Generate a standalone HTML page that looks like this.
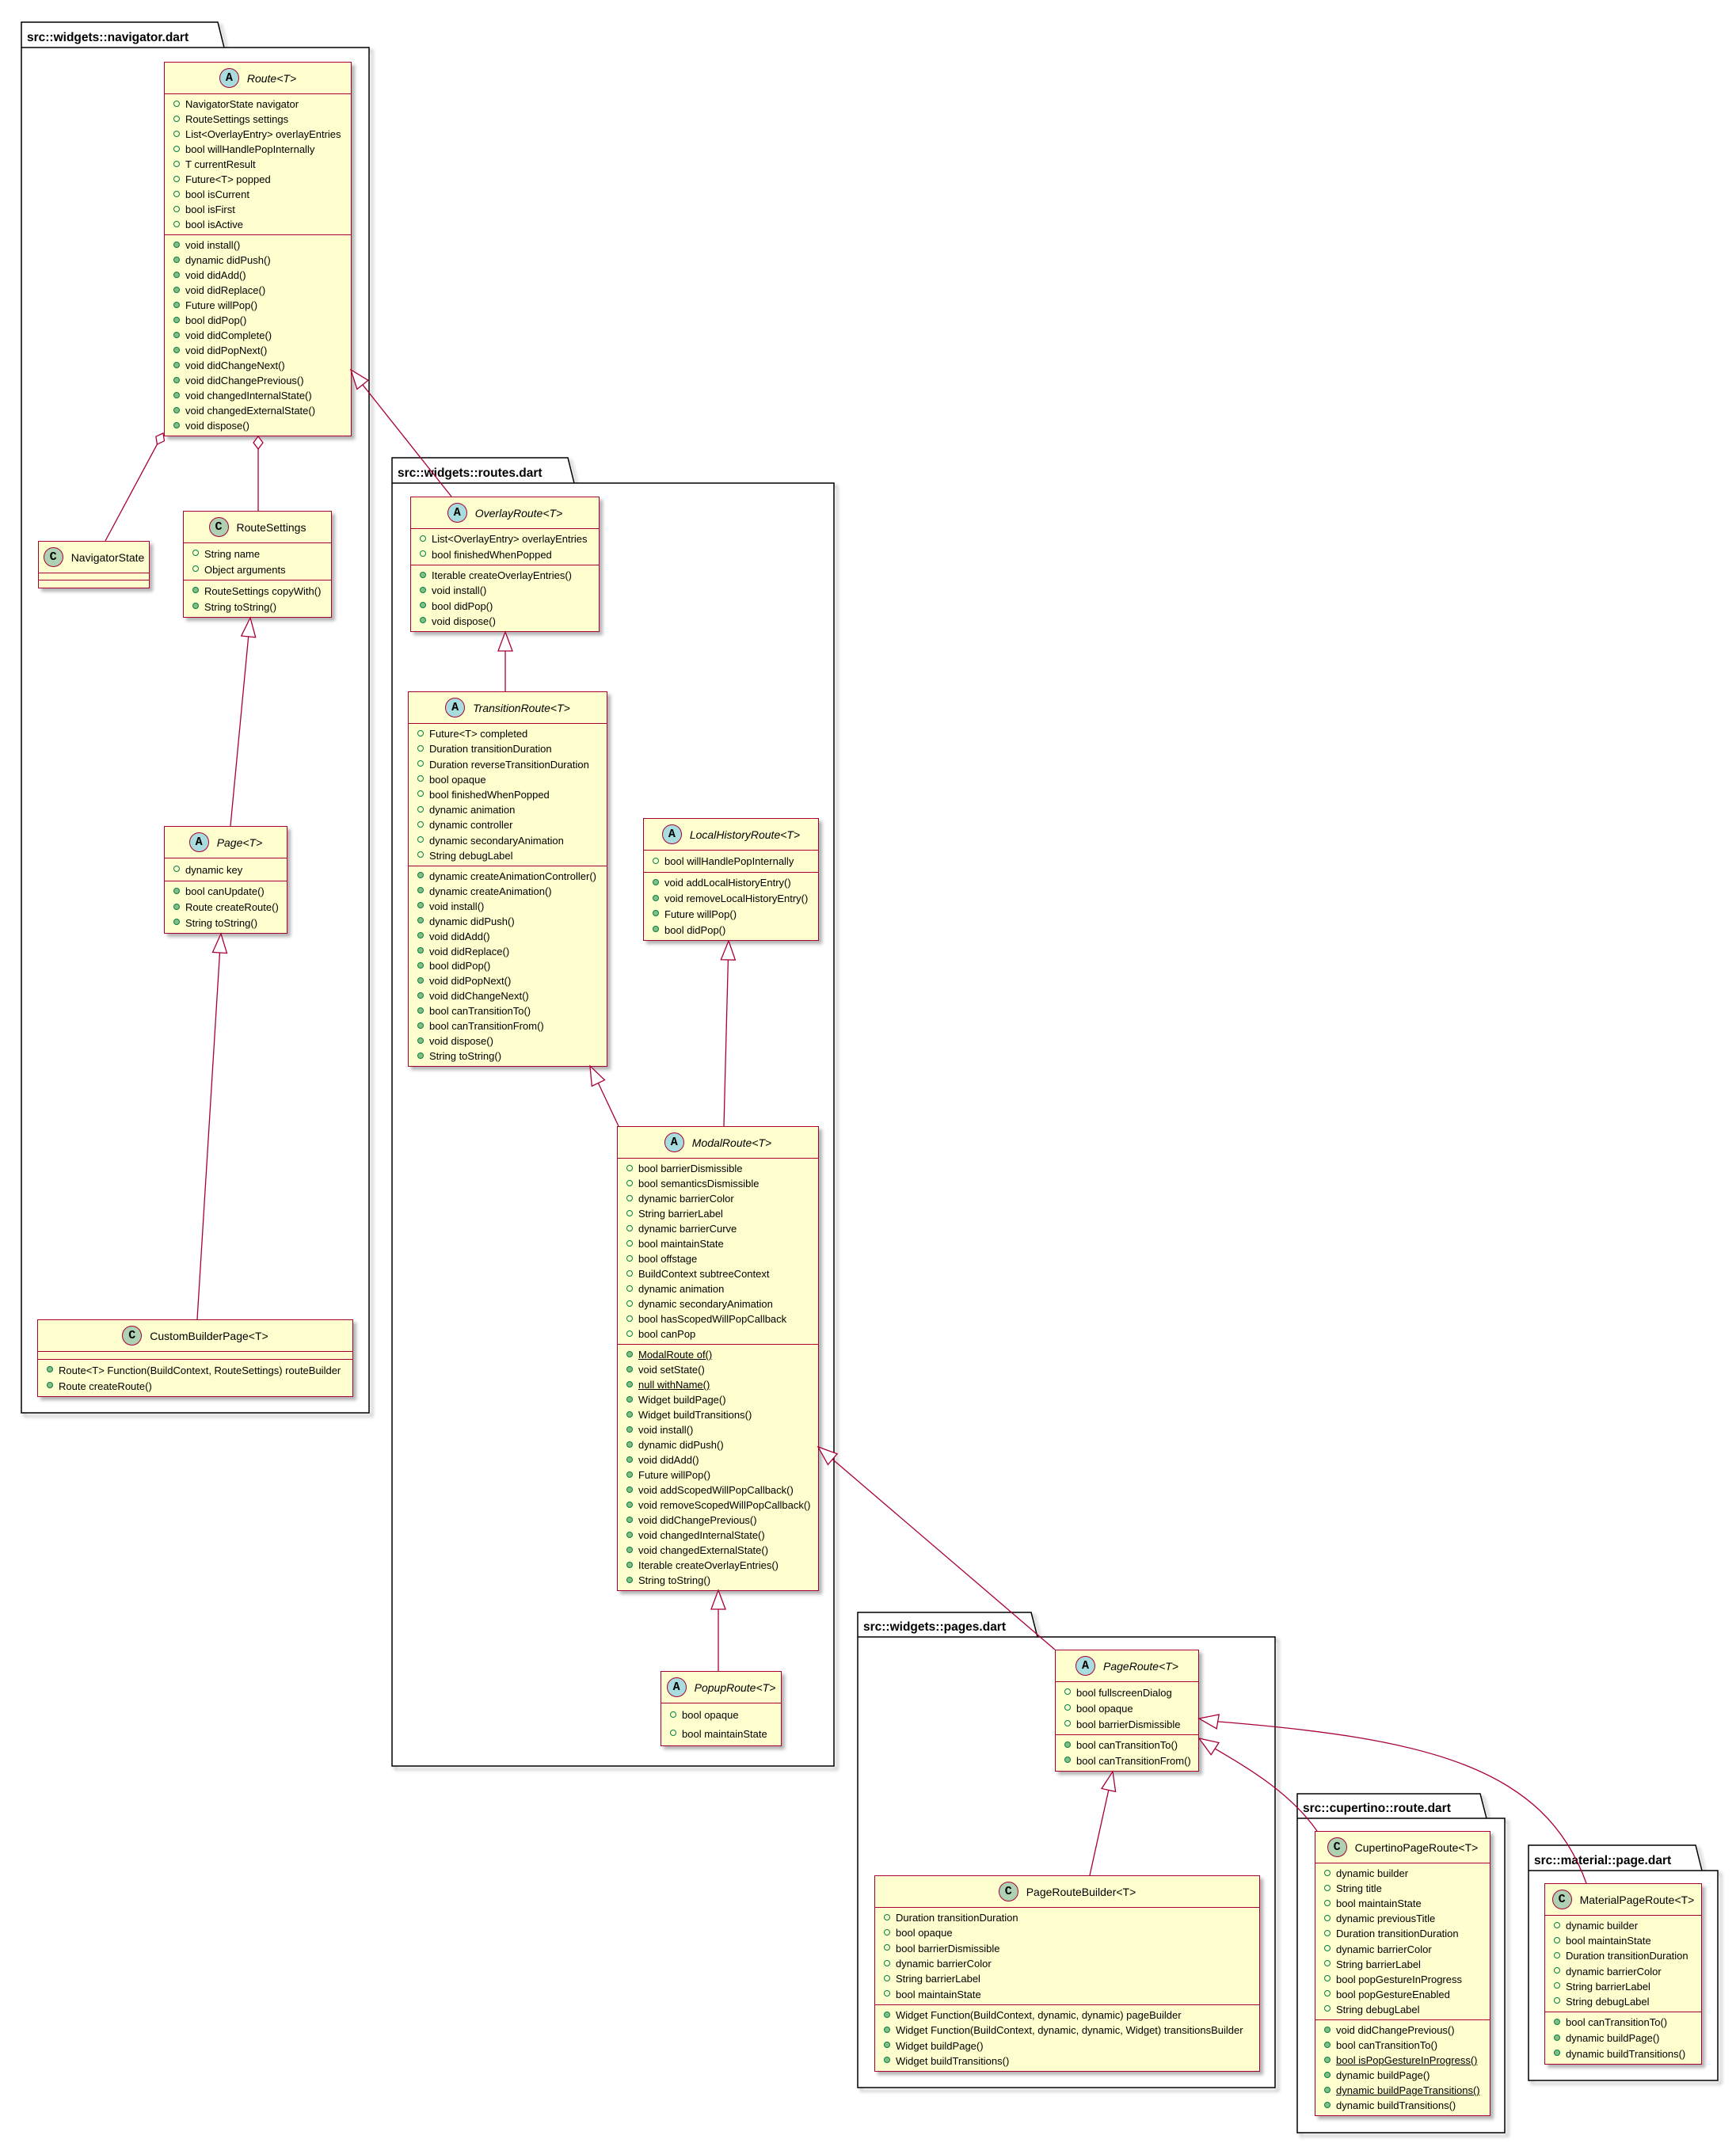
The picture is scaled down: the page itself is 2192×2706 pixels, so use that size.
<!DOCTYPE html>
<html><head><meta charset="utf-8">
<style>
html,body{margin:0;padding:0;background:#fff;}
body{width:2192px;height:2706px;position:relative;overflow:hidden;font-family:"Liberation Sans",sans-serif;color:#000;}
svg{position:absolute;left:0;top:0;}
.c{position:absolute;background:#FEFECE;border:1.5px solid #A80036;box-sizing:border-box;box-shadow:4px 4px 4px rgba(0,0,0,.3);display:flex;flex-direction:column;}
.h{height:40px;flex:none;display:flex;align-items:center;justify-content:center;border-bottom:1.5px solid #A80036;box-sizing:border-box;font-size:14px;white-space:nowrap;}
.h i{font-style:italic}
.ic{width:25px;height:25px;border-radius:50%;border:1.5px solid #A80036;box-sizing:border-box;display:inline-flex;align-items:center;justify-content:center;font-weight:bold;font-size:15px;margin-right:10px;font-family:"Liberation Mono",monospace;}
.A{background:#A9DCDF}.C{background:#ADD1B2}
.s{flex:none;display:flex;flex-direction:column;padding:3px 0;box-sizing:border-box;border-bottom:1.5px solid #A80036;}
.s:last-child{border-bottom:none;flex:1}
.r{flex:1;display:flex;align-items:center;padding-left:26px;position:relative;font-size:13px;white-space:nowrap;}
.r::before{content:"";position:absolute;left:11px;top:50%;margin-top:-5px;width:8px;height:8px;border-radius:50%;box-sizing:border-box;border:1.2px solid #038048;}
.f::before{background:transparent}
.m::before{background:#84BE84}
.u{text-decoration:underline}
</style></head><body>

<svg width="2192" height="2706">
<defs><filter id="sh" x="-5%" y="-5%" width="110%" height="110%"><feGaussianBlur stdDeviation="2"/></filter></defs>
<g fill="none" stroke="#000" stroke-width="1.5">
 <!-- shadows -->
 <g stroke="#999" filter="url(#sh)" transform="translate(4,4)">
  <path d="M27,60 V28 H275 L283,60 H466 V1784 H27 Z"/>
  <path d="M495,610 V578 H717 L725,610 H1053 V2230 H495 Z"/>
  <path d="M1083,2067 V2036 H1302 L1310,2067 H1610 V2636 H1083 Z"/>
  <path d="M1638,2296 V2265 H1869 L1877,2296 H1900 V2693 H1638 Z"/>
  <path d="M1930,2362 V2330 H2141 L2149,2362 H2169 V2627 H1930 Z"/>
 </g>
 <path d="M27,60 V28 H275 L283,60 H466 V1784 H27 Z" fill="#fff"/><path d="M27,60 H283"/>
 <path d="M495,610 V578 H717 L725,610 H1053 V2230 H495 Z" fill="#fff"/><path d="M495,610 H725"/>
 <path d="M1083,2067 V2036 H1302 L1310,2067 H1610 V2636 H1083 Z" fill="#fff"/><path d="M1083,2067 H1310"/>
 <path d="M1638,2296 V2265 H1869 L1877,2296 H1900 V2693 H1638 Z" fill="#fff"/><path d="M1638,2296 H1877"/>
 <path d="M1930,2362 V2330 H2141 L2149,2362 H2169 V2627 H1930 Z" fill="#fff"/><path d="M1930,2362 H2149"/>
</g>
<g font-family="Liberation Sans, sans-serif" font-weight="bold" font-size="15.5">
 <text x="34" y="52">src::widgets::navigator.dart</text>
 <text x="502" y="602">src::widgets::routes.dart</text>
 <text x="1090" y="2059">src::widgets::pages.dart</text>
 <text x="1645" y="2288">src::cupertino::route.dart</text>
 <text x="1937" y="2354">src::material::page.dart</text>
</g>
</svg>

<!-- Route -->
<div class="c" style="left:207px;top:78px;width:237px;height:473px">
 <div class="h"><span class="ic A">A</span><i>Route&lt;T&gt;</i></div>
 <div class="s" style="height:178px">
  <div class="r f">NavigatorState navigator</div><div class="r f">RouteSettings settings</div><div class="r f">List&lt;OverlayEntry&gt; overlayEntries</div><div class="r f">bool willHandlePopInternally</div><div class="r f">T currentResult</div><div class="r f">Future&lt;T&gt; popped</div><div class="r f">bool isCurrent</div><div class="r f">bool isFirst</div><div class="r f">bool isActive</div>
 </div>
 <div class="s">
  <div class="r m">void install()</div><div class="r m">dynamic didPush()</div><div class="r m">void didAdd()</div><div class="r m">void didReplace()</div><div class="r m">Future willPop()</div><div class="r m">bool didPop()</div><div class="r m">void didComplete()</div><div class="r m">void didPopNext()</div><div class="r m">void didChangeNext()</div><div class="r m">void didChangePrevious()</div><div class="r m">void changedInternalState()</div><div class="r m">void changedExternalState()</div><div class="r m">void dispose()</div>
 </div>
</div>

<!-- NavigatorState -->
<div class="c" style="left:48px;top:683px;width:141px;height:60px">
 <div class="h"><span class="ic C">C</span>NavigatorState</div>
 <div class="s" style="height:9px;padding:0"></div>
 <div class="s" style="padding:0"></div>
</div>

<!-- RouteSettings -->
<div class="c" style="left:231px;top:645px;width:188px;height:135px">
 <div class="h"><span class="ic C">C</span>RouteSettings</div>
 <div class="s" style="height:47px"><div class="r f">String name</div><div class="r f">Object arguments</div></div>
 <div class="s"><div class="r m">RouteSettings copyWith()</div><div class="r m">String toString()</div></div>
</div>

<!-- Page -->
<div class="c" style="left:207px;top:1043px;width:156px;height:136px">
 <div class="h"><span class="ic A">A</span><i>Page&lt;T&gt;</i></div>
 <div class="s" style="height:29px"><div class="r f">dynamic key</div></div>
 <div class="s"><div class="r m">bool canUpdate()</div><div class="r m">Route createRoute()</div><div class="r m">String toString()</div></div>
</div>

<!-- CustomBuilderPage -->
<div class="c" style="left:47px;top:1666px;width:399px;height:98px">
 <div class="h"><span class="ic C">C</span>CustomBuilderPage&lt;T&gt;</div>
 <div class="s" style="height:10px;padding:0"></div>
 <div class="s"><div class="r m">Route&lt;T&gt; Function(BuildContext, RouteSettings) routeBuilder</div><div class="r m">Route createRoute()</div></div>
</div>

<!-- OverlayRoute -->
<div class="c" style="left:518px;top:627px;width:239px;height:171px">
 <div class="h"><span class="ic A">A</span><i>OverlayRoute&lt;T&gt;</i></div>
 <div class="s" style="height:46px"><div class="r f">List&lt;OverlayEntry&gt; overlayEntries</div><div class="r f">bool finishedWhenPopped</div></div>
 <div class="s"><div class="r m">Iterable createOverlayEntries()</div><div class="r m">void install()</div><div class="r m">bool didPop()</div><div class="r m">void dispose()</div></div>
</div>

<!-- TransitionRoute -->
<div class="c" style="left:515px;top:873px;width:252px;height:474px">
 <div class="h"><span class="ic A">A</span><i>TransitionRoute&lt;T&gt;</i></div>
 <div class="s" style="height:180px">
  <div class="r f">Future&lt;T&gt; completed</div><div class="r f">Duration transitionDuration</div><div class="r f">Duration reverseTransitionDuration</div><div class="r f">bool opaque</div><div class="r f">bool finishedWhenPopped</div><div class="r f">dynamic animation</div><div class="r f">dynamic controller</div><div class="r f">dynamic secondaryAnimation</div><div class="r f">String debugLabel</div>
 </div>
 <div class="s">
  <div class="r m">dynamic createAnimationController()</div><div class="r m">dynamic createAnimation()</div><div class="r m">void install()</div><div class="r m">dynamic didPush()</div><div class="r m">void didAdd()</div><div class="r m">void didReplace()</div><div class="r m">bool didPop()</div><div class="r m">void didPopNext()</div><div class="r m">void didChangeNext()</div><div class="r m">bool canTransitionTo()</div><div class="r m">bool canTransitionFrom()</div><div class="r m">void dispose()</div><div class="r m">String toString()</div>
 </div>
</div>

<!-- LocalHistoryRoute -->
<div class="c" style="left:812px;top:1033px;width:222px;height:155px">
 <div class="h"><span class="ic A">A</span><i>LocalHistoryRoute&lt;T&gt;</i></div>
 <div class="s" style="height:28px"><div class="r f">bool willHandlePopInternally</div></div>
 <div class="s"><div class="r m">void addLocalHistoryEntry()</div><div class="r m">void removeLocalHistoryEntry()</div><div class="r m">Future willPop()</div><div class="r m">bool didPop()</div></div>
</div>

<!-- ModalRoute -->
<div class="c" style="left:779px;top:1422px;width:255px;height:587px">
 <div class="h"><span class="ic A">A</span><i>ModalRoute&lt;T&gt;</i></div>
 <div class="s" style="height:235px">
  <div class="r f">bool barrierDismissible</div><div class="r f">bool semanticsDismissible</div><div class="r f">dynamic barrierColor</div><div class="r f">String barrierLabel</div><div class="r f">dynamic barrierCurve</div><div class="r f">bool maintainState</div><div class="r f">bool offstage</div><div class="r f">BuildContext subtreeContext</div><div class="r f">dynamic animation</div><div class="r f">dynamic secondaryAnimation</div><div class="r f">bool hasScopedWillPopCallback</div><div class="r f">bool canPop</div>
 </div>
 <div class="s">
  <div class="r m"><span class="u">ModalRoute of()</span></div><div class="r m">void setState()</div><div class="r m"><span class="u">null withName()</span></div><div class="r m">Widget buildPage()</div><div class="r m">Widget buildTransitions()</div><div class="r m">void install()</div><div class="r m">dynamic didPush()</div><div class="r m">void didAdd()</div><div class="r m">Future willPop()</div><div class="r m">void addScopedWillPopCallback()</div><div class="r m">void removeScopedWillPopCallback()</div><div class="r m">void didChangePrevious()</div><div class="r m">void changedInternalState()</div><div class="r m">void changedExternalState()</div><div class="r m">Iterable createOverlayEntries()</div><div class="r m">String toString()</div>
 </div>
</div>

<!-- PopupRoute -->
<div class="c" style="left:834px;top:2110px;width:153px;height:95px">
 <div class="h"><span class="ic A">A</span><i>PopupRoute&lt;T&gt;</i></div>
 <div class="s"><div class="r f">bool opaque</div><div class="r f">bool maintainState</div></div>
</div>

<!-- PageRoute -->
<div class="c" style="left:1332px;top:2083px;width:182px;height:154px">
 <div class="h"><span class="ic A">A</span><i>PageRoute&lt;T&gt;</i></div>
 <div class="s" style="height:67px"><div class="r f">bool fullscreenDialog</div><div class="r f">bool opaque</div><div class="r f">bool barrierDismissible</div></div>
 <div class="s"><div class="r m">bool canTransitionTo()</div><div class="r m">bool canTransitionFrom()</div></div>
</div>

<!-- PageRouteBuilder -->
<div class="c" style="left:1104px;top:2368px;width:487px;height:248px">
 <div class="h"><span class="ic C">C</span>PageRouteBuilder&lt;T&gt;</div>
 <div class="s" style="height:123px"><div class="r f">Duration transitionDuration</div><div class="r f">bool opaque</div><div class="r f">bool barrierDismissible</div><div class="r f">dynamic barrierColor</div><div class="r f">String barrierLabel</div><div class="r f">bool maintainState</div></div>
 <div class="s"><div class="r m">Widget Function(BuildContext, dynamic, dynamic) pageBuilder</div><div class="r m">Widget Function(BuildContext, dynamic, dynamic, Widget) transitionsBuilder</div><div class="r m">Widget buildPage()</div><div class="r m">Widget buildTransitions()</div></div>
</div>

<!-- CupertinoPageRoute -->
<div class="c" style="left:1660px;top:2312px;width:222px;height:360px">
 <div class="h"><span class="ic C">C</span>CupertinoPageRoute&lt;T&gt;</div>
 <div class="s" style="height:198px"><div class="r f">dynamic builder</div><div class="r f">String title</div><div class="r f">bool maintainState</div><div class="r f">dynamic previousTitle</div><div class="r f">Duration transitionDuration</div><div class="r f">dynamic barrierColor</div><div class="r f">String barrierLabel</div><div class="r f">bool popGestureInProgress</div><div class="r f">bool popGestureEnabled</div><div class="r f">String debugLabel</div></div>
 <div class="s"><div class="r m">void didChangePrevious()</div><div class="r m">bool canTransitionTo()</div><div class="r m"><span class="u">bool isPopGestureInProgress()</span></div><div class="r m">dynamic buildPage()</div><div class="r m"><span class="u">dynamic buildPageTransitions()</span></div><div class="r m">dynamic buildTransitions()</div></div>
</div>

<!-- MaterialPageRoute -->
<div class="c" style="left:1950px;top:2378px;width:199px;height:229px">
 <div class="h"><span class="ic C">C</span>MaterialPageRoute&lt;T&gt;</div>
 <div class="s" style="height:122px"><div class="r f">dynamic builder</div><div class="r f">bool maintainState</div><div class="r f">Duration transitionDuration</div><div class="r f">dynamic barrierColor</div><div class="r f">String barrierLabel</div><div class="r f">String debugLabel</div></div>
 <div class="s"><div class="r m">bool canTransitionTo()</div><div class="r m">dynamic buildPage()</div><div class="r m">dynamic buildTransitions()</div></div>
</div>

<!-- connectors -->
<svg width="2192" height="2706" style="pointer-events:none">
<g stroke="#A80036" stroke-width="1.3" fill="none">
 <line x1="457.9" y1="485.8" x2="570" y2="627"/>
 <polygon points="443,467 450.9,491.4 464.9,480.2" fill="#fff"/>
 <line x1="198.4" y1="561.1" x2="133" y2="683"/>
 <polygon points="206,547 196.9,551.2 198.4,561.1 207.5,556.8" fill="#fff"/>
 <line x1="326" y1="567" x2="326" y2="645"/>
 <polygon points="326,551 320,559 326,567 332,559" fill="#fff"/>
 <line x1="313.7" y1="803.9" x2="291" y2="1043"/>
 <polygon points="316,780 304.7,803 322.7,804.8" fill="#fff"/>
 <line x1="277.5" y1="1203" x2="249" y2="1666"/>
 <polygon points="279,1179 268.5,1202.4 286.5,1203.6" fill="#fff"/>
 <line x1="638" y1="822" x2="638" y2="873"/>
 <polygon points="638,798 629,822 647,822" fill="#fff"/>
 <line x1="755.4" y1="1367.6" x2="781" y2="1422"/>
 <polygon points="745,1346 747.3,1371.5 763.5,1363.7" fill="#fff"/>
 <line x1="919.4" y1="1212" x2="914" y2="1422"/>
 <polygon points="920,1188 910.4,1211.8 928.4,1212.2" fill="#fff"/>
 <line x1="907" y1="2032" x2="907" y2="2110"/>
 <polygon points="907,2008 898,2032 916,2032" fill="#fff"/>
 <line x1="1051.2" y1="1842.6" x2="1332" y2="2083"/>
 <polygon points="1033,1827 1045.4,1849.4 1057.1,1835.8" fill="#fff"/>
 <line x1="1399.8" y1="2260.4" x2="1376" y2="2368"/>
 <polygon points="1405,2237 1391,2258.5 1408.6,2262.3" fill="#fff"/>
 <path d="M1534.1,2208.1 C1580,2235 1630,2265 1663,2312"/>
 <polygon points="1514,2195 1529.2,2215.7 1539,2200.5" fill="#fff"/>
 <path d="M1537.7,2173.9 C1800,2195 1950,2230 2003,2378"/>
 <polygon points="1514,2170 1536.2,2182.8 1539.2,2165" fill="#fff"/>
</g>
</svg>
</body></html>
